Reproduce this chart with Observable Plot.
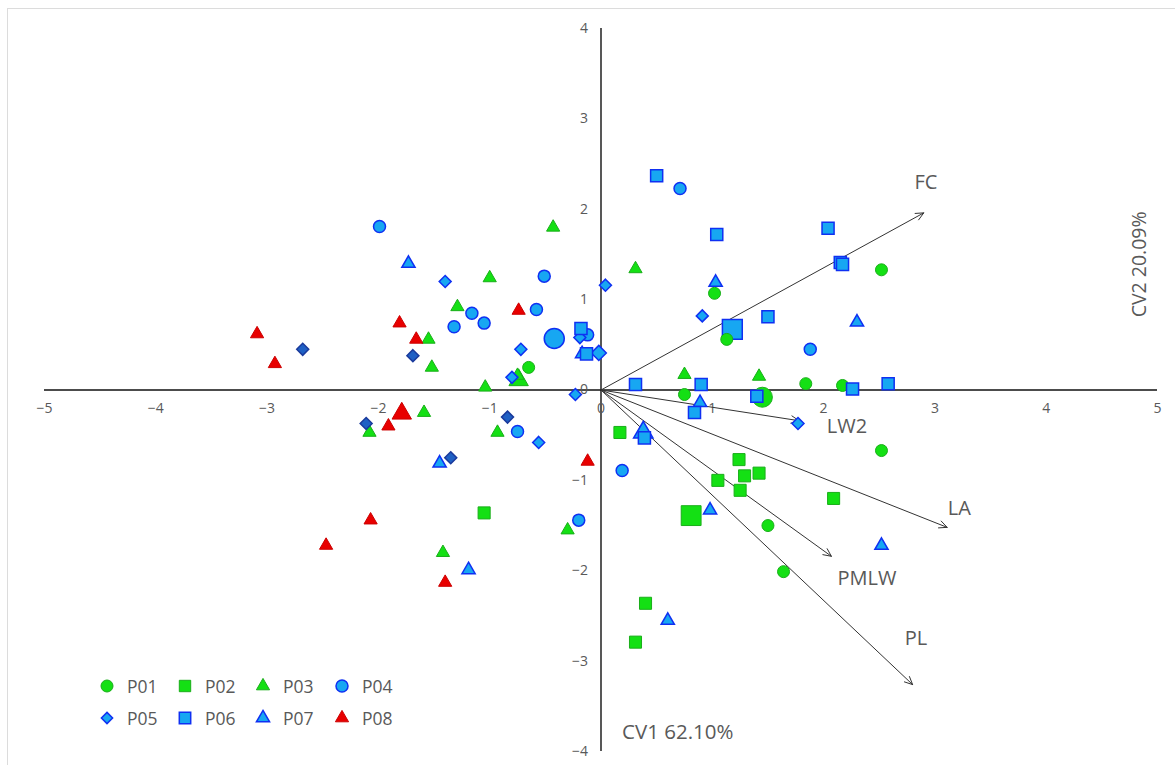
<!DOCTYPE html>
<html>
<head>
<meta charset="utf-8">
<script src="https://cdn.jsdelivr.net/npm/d3@7"></script>
<script src="https://cdn.jsdelivr.net/npm/@observablehq/plot@0.6"></script>
<style>
  html, body { margin: 0; padding: 0; background: #fff; }
  #wrap { position: relative; width: 1175px; height: 765px; overflow: hidden; font-family: "Open Sans", sans-serif; }
  #border { position: absolute; left: 7px; top: 8px; width: 1200px; height: 800px; border-top: 1px solid #dcdcdc; border-left: 1px solid #dcdcdc; }
  #chart { position: absolute; left: 0; top: 0; }
  .leg { position: absolute; display: flex; align-items: center; font-size: 17.5px; color: #595959; }
</style>
</head>
<body>
<div id="wrap"><div id="border"></div><div id="chart"></div></div>
<script>
// ---- data ----
const populations = ["P01", "P02", "P03", "P04", "P05", "P06", "P07", "P08"];

const p01 = [[1.02,1.07],[1.13,0.56],[2.52,1.33],[0.75,-0.05],[1.84,0.07],[2.17,0.05],[2.52,-0.67],[1.50,-1.50],[1.64,-2.01],[-0.65,0.25]];
const p02 = [[0.17,-0.47],[1.24,-0.77],[1.29,-0.95],[1.42,-0.92],[1.05,-1.00],[1.25,-1.11],[2.09,-1.20],[-1.05,-1.36],[0.40,-2.36],[0.31,-2.79]];
const p03 = [[-0.43,1.80],[0.31,1.34],[-1.00,1.24],[-1.29,0.92],[-1.55,0.56],[-1.52,0.25],[-0.75,0.16],[-1.04,0.03],[0.75,0.17],[1.42,0.15],[-1.59,-0.25],[-2.08,-0.47],[-0.93,-0.47],[-1.42,-1.80],[-0.30,-1.55]];
const p04 = [[-1.99,1.81],[0.71,2.23],[-0.51,1.26],[-0.58,0.89],[-1.16,0.85],[-1.05,0.74],[-1.32,0.70],[-0.12,0.61],[1.88,0.45],[-0.75,-0.46],[0.19,-0.89],[-0.20,-1.44]];
const p05 = [[-1.40,1.20],[0.04,1.16],[0.91,0.82],[-0.72,0.45],[-0.80,0.14],[-0.19,0.58],[-0.23,-0.05],[-0.56,-0.58],[1.77,-0.37]];
const p05b = [[-2.68,0.45],[-1.69,0.38],[-0.84,-0.30],[-2.11,-0.37],[-1.35,-0.75]];
const p06 = [[0.50,2.37],[1.04,1.72],[2.04,1.79],[2.15,1.41],[2.17,1.39],[1.50,0.81],[-0.18,0.68],[-0.13,0.40],[0.31,0.06],[0.90,0.06],[2.58,0.07],[1.40,-0.07],[2.26,0.01],[0.84,-0.25],[0.39,-0.53]];
const p07 = [[-1.73,1.40],[1.03,1.19],[2.30,0.75],[-0.17,0.40],[0.89,-0.14],[0.98,-1.33],[2.52,-1.72],[-1.45,-0.81],[-1.19,-1.99],[0.60,-2.55]];
const p08 = [[-3.09,0.62],[-2.93,0.29],[-1.81,0.74],[-1.66,0.56],[-0.74,0.88],[-1.91,-0.40],[-0.12,-0.79],[-2.07,-1.44],[-2.47,-1.72],[-1.40,-2.13]];

// group centroids (larger markers), in population order
const centroids = [[1.45,-0.08],[0.81,-1.39],[-0.74,0.11],[-0.42,0.57],[-0.02,0.41],[1.18,0.67],[0.38,-0.47],[-1.79,-0.26]];

// loading vectors
const vectorNames = ["FC", "LW2", "LA", "PMLW", "PL"];
const vectorX = [2.90, 1.78, 3.11, 2.07, 2.80];
const vectorY = [1.96, -0.34, -1.52, -1.84, -3.26];
const labelX = [2.92, 2.21, 3.22, 2.39, 2.83];
const labelY = [2.30, -0.41, -1.31, -2.09, -2.75];

const xTicks = [-5, -4, -3, -2, -1, 0, 1, 2, 3, 4, 5];
const yTicks = [-4, -3, -2, -1, 0, 1, 2, 3, 4];
const xTitle = "CV1 62.10%";
const yTitle = "CV2 20.09%";

// ---- styles ----
const GREEN = "#14e014", GREEN_S = "#1aae1a";
const BLUE = "#17a7f2", BLUE_S = "#0f30f2";
const DARK = "#1f60c4", DARK_S = "#1a3a9c";
const RED = "#e80000", RED_S = "#cc0000";
const TXT = "#595959";

const SYM = {circle: "circle", square: "square", triangle: "triangle", diamond: d3.symbolDiamond2};
const R = {circle: 6, square: 6.8, triangle: 4.9, diamond: 5.4};
const RC = {circle: 10, square: 11.2, triangle: 7.2, diamond: 6.8};

const series = [
  {data: p01, sym: "circle", fill: GREEN, stroke: GREEN_S, sw: 1},
  {data: p02, sym: "square", fill: GREEN, stroke: GREEN_S, sw: 1},
  {data: p03, sym: "triangle", fill: GREEN, stroke: GREEN_S, sw: 1},
  {data: p04, sym: "circle", fill: BLUE, stroke: BLUE_S, sw: 1.5},
  {data: p05, sym: "diamond", fill: BLUE, stroke: BLUE_S, sw: 1.5},
  {data: p06, sym: "square", fill: BLUE, stroke: BLUE_S, sw: 1.5},
  {data: p07, sym: "triangle", fill: BLUE, stroke: BLUE_S, sw: 1.5},
  {data: p08, sym: "triangle", fill: RED, stroke: RED_S, sw: 1}
];

const fmt = v => v < 0 ? "\u2212" + Math.abs(v) : String(v);
const vectors = vectorNames.map((n, i) => ({name: n, x: vectorX[i], y: vectorY[i], lx: labelX[i], ly: labelY[i]}));

const marks = [
  Plot.ruleY([0], {stroke: "#111", strokeWidth: 1.6}),
  Plot.ruleX([0], {stroke: "#111", strokeWidth: 1.4}),
  Plot.text(xTicks, {x: d => d, y: 0, text: fmt, dy: 19, fill: TXT, fontSize: 14}),
  Plot.text(yTicks, {x: 0, y: d => d, text: fmt, dx: -13, textAnchor: "end", fill: TXT, fontSize: 14}),
  Plot.arrow(vectors, {x1: 0, y1: 0, x2: "x", y2: "y", stroke: "#333", strokeWidth: 1, headLength: 13, headAngle: 50})
];

// centroids first (drawn beneath the individual points)
series.forEach((s, i) => {
  marks.push(Plot.dot([centroids[i]], {x: d => d[0], y: d => d[1], symbol: SYM[s.sym], r: RC[s.sym], fill: s.fill, stroke: s.stroke, strokeWidth: s.sw}));
});
const order = [0, 1, 2, 3, 4, 6, 5, 7];
order.forEach(i => {
  const s = series[i];
  marks.push(Plot.dot(s.data, {x: d => d[0], y: d => d[1], symbol: SYM[s.sym], r: R[s.sym], fill: s.fill, stroke: s.stroke, strokeWidth: s.sw}));
  if (i === 4) {
    marks.push(Plot.dot(p05b, {x: d => d[0], y: d => d[1], symbol: SYM.diamond, r: R.diamond, fill: DARK, stroke: DARK_S, strokeWidth: 1.5}));
  }
});

marks.push(
  Plot.text(vectors, {x: "lx", y: "ly", text: "name", fill: TXT, fontSize: 20}),
  Plot.text([xTitle], {x: 0.69, y: -3.79, text: d => d, fill: TXT, fontSize: 20.5}),
  Plot.text([yTitle], {x: 4.84, y: 1.39, text: d => d, rotate: -90, fill: TXT, fontSize: 19.5})
);

const chart = Plot.plot({
  width: 1175,
  height: 765,
  marginLeft: 44,
  marginRight: 18,
  marginTop: 28,
  marginBottom: 14,
  x: {domain: [-5, 5], axis: null},
  y: {domain: [-4, 4], axis: null},
  style: {fontFamily: "'Open Sans', sans-serif", background: "transparent", overflow: "visible"},
  marks
});
document.getElementById("chart").appendChild(chart);

// ---- legend (inside plot, bottom-left) ----
const wrap = document.getElementById("wrap");
const legX = [107, 185, 263, 342];
const legY = [686, 718];
populations.forEach((p, i) => {
  const s = series[i];
  const cx = legX[i % 4], cy = legY[Math.floor(i / 4)];
  const div = document.createElement("div");
  div.className = "leg";
  div.style.left = (cx - 10) + "px";
  div.style.top = (cy - 12) + "px";
  div.style.height = "24px";
  const size = s.sym === "circle" ? Math.PI * 36 : s.sym === "square" ? 130 : s.sym === "triangle" ? 75 : 80;
  const type = s.sym === "circle" ? d3.symbolCircle : s.sym === "square" ? d3.symbolSquare : s.sym === "triangle" ? d3.symbolTriangle : d3.symbolDiamond2;
  const svg = d3.create("svg").attr("width", 20).attr("height", 24);
  svg.append("path").attr("transform", "translate(10,12)").attr("d", d3.symbol().type(type).size(size)())
    .attr("fill", s.fill).attr("stroke", s.stroke).attr("stroke-width", s.sw);
  div.appendChild(svg.node());
  const t = document.createElement("span");
  t.textContent = p;
  t.style.marginLeft = "10px";
  div.appendChild(t);
  wrap.appendChild(div);
});
</script>
</body>
</html>
